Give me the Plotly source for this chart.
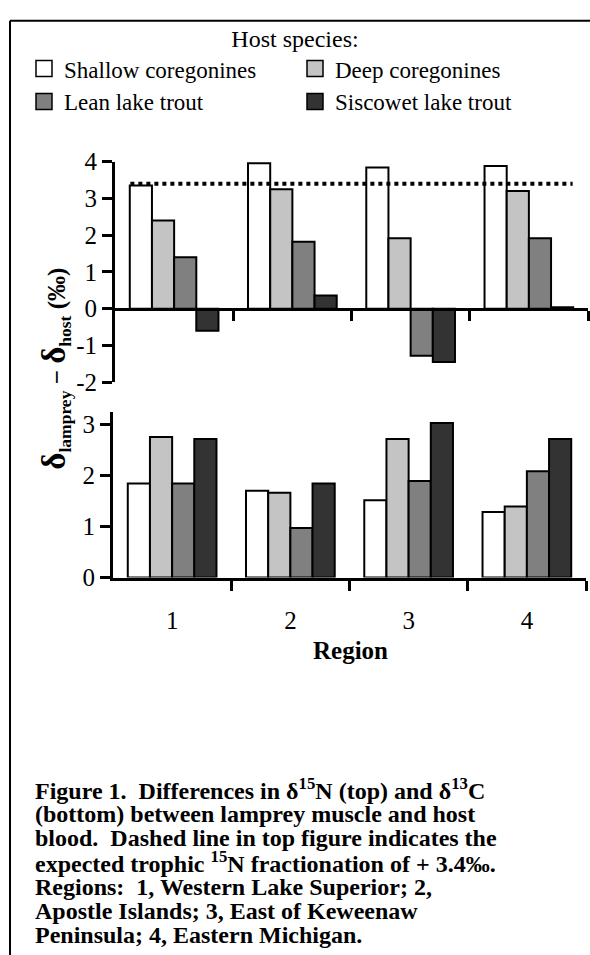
import plotly.graph_objects as go

W, H = 590, 955

regions = [1, 2, 3, 4]
region_labels = ["1", "2", "3", "4"]
species = ["Shallow coregonines", "Deep coregonines", "Lean lake trout", "Siscowet lake trout"]
colors = ["#ffffff", "#c4c4c4", "#808080", "#333333"]

# delta 15N differences (top)
n15_shallow = [3.35, 3.96, 3.84, 3.88]
n15_deep = [2.40, 3.25, 1.92, 3.20]
n15_lean = [1.40, 1.82, -1.28, 1.92]
n15_siscowet = [-0.60, 0.36, -1.45, 0.04]

# delta 13C differences (bottom)
c13_shallow = [1.84, 1.70, 1.51, 1.28]
c13_deep = [2.75, 1.66, 2.71, 1.39]
c13_lean = [1.84, 0.97, 1.89, 2.08]
c13_siscowet = [2.71, 1.84, 3.02, 2.71]

expected_fractionation = 3.4

top_ticks = [-2, -1, 0, 1, 2, 3, 4]
top_ticktext = ["-2", "-1", "0", "1", "2", "3", "4"]
bot_ticks = [0, 1, 2, 3]
bot_ticktext = ["0", "1", "2", "3"]

caption_lines = [
    "<b>Figure 1. \u00a0Differences in δ<sup>15</sup>N (top) and δ<sup>13</sup>C</b>",
    "<b>(bottom) between lamprey muscle and host</b>",
    "<b>blood. \u00a0Dashed line in top figure indicates the</b>",
    "<b>expected trophic <sup>15</sup>N fractionation of + 3.4‰.</b>",
    "<b>Regions: \u00a01, Western Lake Superior; 2,</b>",
    "<b>Apostle Islands; 3, East of Keweenaw</b>",
    "<b>Peninsula; 4, Eastern Michigan.</b>",
]

FONT = "Liberation Serif"

def py(p):
    return 1 - p / H

def px(p):
    return p / W

fig = go.Figure()

top_series = [n15_shallow, n15_deep, n15_lean, n15_siscowet]
bot_series = [c13_shallow, c13_deep, c13_lean, c13_siscowet]

for name, col, vals in zip(species, colors, top_series):
    fig.add_trace(go.Bar(x=regions, y=vals, name=name, marker=dict(color=col, line=dict(color="black", width=2)),
                         xaxis="x", yaxis="y", showlegend=False))
for name, col, vals in zip(species, colors, bot_series):
    fig.add_trace(go.Bar(x=regions, y=vals, name=name, marker=dict(color=col, line=dict(color="black", width=2)),
                         xaxis="x2", yaxis="y2", showlegend=False))

# dotted expected fractionation line spanning the bar groups
half_group = 0.37
fig.add_trace(go.Scatter(x=[regions[0] - half_group, regions[-1] + half_group],
                         y=[expected_fractionation, expected_fractionation],
                         mode="lines", line=dict(color="black", width=4, dash="dot"),
                         xaxis="x", yaxis="y", showlegend=False, hoverinfo="skip"))

# legend entries
for name, col in zip(species, colors):
    fig.add_trace(go.Scatter(x=[None], y=[None], mode="markers", name=name,
                             marker=dict(symbol="square", size=16, color=col, line=dict(color="black", width=1.5)),
                             xaxis="x", yaxis="y", showlegend=True))

axis_common = dict(showline=True, linecolor="black", linewidth=3, showgrid=False, zeroline=False,
                   tickfont=dict(family=FONT, size=25, color="black"))

minor_ticks = dict(tickmode="array", tickvals=[1.5, 2.5, 3.5, 4.5], ticks="outside",
                   ticklen=10, tickwidth=3, tickcolor="black", showgrid=False)

fig.update_layout(
    width=W, height=H, autosize=False,
    margin=dict(l=0, r=0, t=0, b=0),
    paper_bgcolor="white", plot_bgcolor="rgba(0,0,0,0)",
    barmode="group", bargap=0.25, bargroupgap=0,
    font=dict(family=FONT, color="black"),
    xaxis=dict(domain=[px(115), px(588)], range=[0.5, 4.5], anchor="free", position=py(305),
               ticks="", showticklabels=False, minor=minor_ticks, **axis_common),
    yaxis=dict(domain=[py(380), py(153)], range=[-2, 4], anchor="x",
               tickmode="array", tickvals=top_ticks, ticktext=top_ticktext,
               ticks="outside", ticklen=10, tickwidth=3, tickcolor="black", **axis_common),
    xaxis2=dict(domain=[px(113), px(586)], range=[0.5, 4.5], anchor="y2",
                tickmode="array", tickvals=regions, ticktext=region_labels, ticks="",
                ticklabelstandoff=18, minor=minor_ticks, **axis_common),
    yaxis2=dict(domain=[py(581), py(411)], range=[0, 3.23], anchor="x2",
                tickmode="array", tickvals=bot_ticks, ticktext=bot_ticktext,
                ticks="outside", ticklen=10, tickwidth=3, tickcolor="black", **axis_common),
    legend=dict(orientation="h", x=px(24), y=py(3), xanchor="left", yanchor="top",
                entrywidth=226, itemsizing="trace", tracegroupgap=0,
                font=dict(family=FONT, size=23, color="black"),
                title=dict(text="Host species:", side="top center", font=dict(family=FONT, size=24, color="black")),
                bgcolor="rgba(0,0,0,0)"),
    showlegend=True,
)

# frame lines
fig.add_shape(type="line", xref="paper", yref="paper", x0=px(10), x1=1.02, y0=py(8), y1=py(8),
              line=dict(color="black", width=2))
fig.add_shape(type="line", xref="paper", yref="paper", x0=px(10), x1=px(10), y0=-0.02, y1=py(8),
              line=dict(color="black", width=2))

# axis titles
fig.add_annotation(xref="paper", yref="paper", x=px(351), y=py(656), text="<b>Region</b>", showarrow=False,
                   font=dict(family=FONT, size=25, color="black"), xanchor="center", yanchor="middle")
fig.add_annotation(xref="paper", yref="paper", x=px(55), y=py(366),
                   text="<b><span style='font-size:33px'>δ</span><sub>lamprey</sub> − <span style='font-size:33px'>δ</span><sub>host</sub> (‰)</b>",
                   textangle=-90, showarrow=False, font=dict(family=FONT, size=25, color="black"),
                   xanchor="center", yanchor="middle")

# caption
cap_top = 799
cap_step = 25
for i, line in enumerate(caption_lines):
    fig.add_annotation(xref="paper", yref="paper", x=px(33), y=py(cap_top + i * cap_step), text=line,
                       showarrow=False, xanchor="left", yanchor="middle", align="left",
                       font=dict(family=FONT, size=24, color="black"))

fig.write_html("out.html", config={"displayModeBar": False},
               post_script="document.body.style.margin='0px';")
